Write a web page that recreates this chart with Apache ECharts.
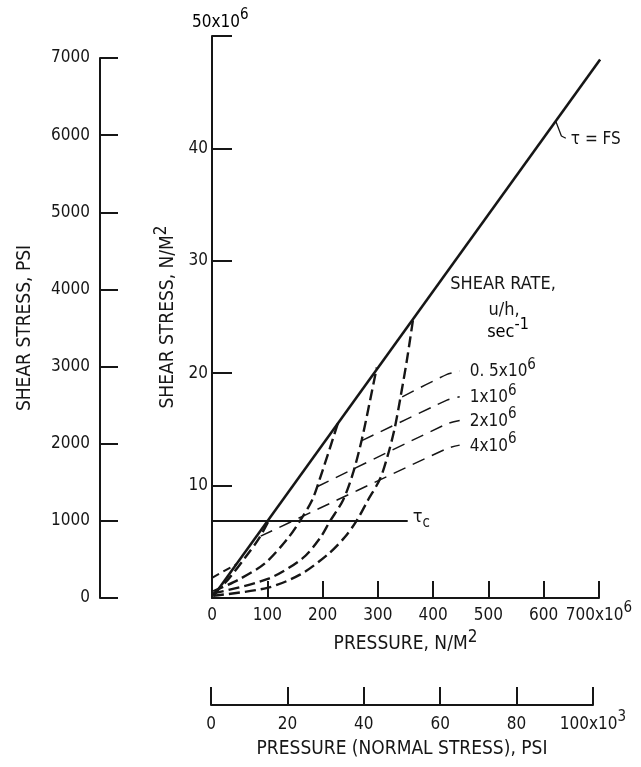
<!DOCTYPE html>
<html lang="en">
<head>
	<meta charset="UTF-8">
	<title>Shear stress vs pressure</title>
	<style>
		html,body{background-color:#fff;height:100%;overflow:hidden;margin:0;padding:0;}
		#main{position:absolute;top:0;left:0;width:641px;height:767px;}
	</style>
</head>
<body>
	<div id="main"></div>
	<script src="https://cdn.jsdelivr.net/npm/echarts@6/dist/echarts.min.js"></script>
	<script>
		// units: pressure and shear stress in 10^6 N/m^2 unless noted
		var pressTicks = [0, 100, 200, 300, 400, 500, 600, 700];
		var stressTicks = [0, 10, 20, 30, 40, 50];
		var psiTicks = [0, 1000, 2000, 3000, 4000, 5000, 6000, 7000];
		var kpsiTicks = [0, 20, 40, 60, 80, 100];

		// tau = FS limit line and critical stress tau_c
		var fsLine = [[3, 0.2], [702, 47.9]];
		var tauC = [[0, 6.85], [354, 6.85]];
		var fsLeader = [[622, 42.4], [632, 41.1], [640, 40.9]];

		// steep dashed curves, meeting the FS line
		var curve0 = [[2, 0.3], [30, 1.7], [60, 3.6], [85, 5.3], [105, 7.1]];
		var curveA = [[2, 0.6], [47, 1.6], [96, 3.1], [137, 5.3], [159, 6.85], [181, 8.7], [195, 10.6], [213, 13.3], [228, 15.6]];
		var curveB = [[2, 0.4], [101, 1.7], [163, 3.5], [195, 5.3], [213, 6.8], [237, 8.7], [255, 11.1], [271, 14.1], [286, 17.6], [298, 20.5]];
		var curveC = [[2, 0.2], [100, 0.9], [160, 2.1], [210, 3.9], [240, 5.4], [262, 6.9], [282, 8.7], [304, 10.6], [318, 12.7], [330, 15.0], [340, 17.6], [352, 21.0], [364, 24.9]];
		var lowDash = [[0, 1.8], [44, 3.0]];

		// shear rate lines, u/h in sec^-1
		var rateNames = ['0. 5x10', '1x10', '2x10', '4x10'];
		var rateLines = [
			[[344, 17.9], [425, 19.9], [448, 20.2]],
			[[271, 14.0], [425, 17.6], [448, 17.9]],
			[[190, 9.9], [425, 15.5], [448, 15.8]],
			[[88, 5.5], [425, 13.3], [448, 13.6]]
		];

		var FONT = '"DejaVu Sans Condensed", "Liberation Sans Narrow", "DejaVu Sans", sans-serif';
		var INK = '#161616';

		function rich(size){
			return {
				a: {fontFamily: FONT, fontSize: size, color: INK, verticalAlign: 'bottom', lineHeight: size + 2},
				s: {fontFamily: FONT, fontSize: size - 2, color: INK, verticalAlign: 'bottom', lineHeight: size, padding: [0, 0, 8, 0]},
				b: {fontFamily: FONT, fontSize: size, color: INK, verticalAlign: 'bottom', lineHeight: size + 2, padding: [0, 0, 5, 0]},
				c: {fontFamily: FONT, fontSize: size - 3, color: INK, verticalAlign: 'bottom', lineHeight: size - 1}
			};
		}
		function lineSeries(data, width, type, smooth){
			return {
				type: 'line', xAxisIndex: 0, yAxisIndex: 0, data: data,
				symbol: 'none', showSymbol: false, smooth: smooth || false, silent: true,
				lineStyle: {color: INK, width: width, type: type}
			};
		}
		function axisStyle(){
			return {
				axisLine: {show: true, lineStyle: {color: INK, width: 2}},
				axisTick: {show: true, inside: true, length: 18, lineStyle: {color: INK, width: 2}},
				splitLine: {show: false},
				axisLabel: {color: INK, fontFamily: FONT, fontSize: 17}
			};
		}
		function ext(base, more){
			for (var k in more) base[k] = more[k];
			return base;
		}
		function plain(v){ return String(v); }

		var chart = echarts.init(document.getElementById('main'));

		var series = [];
		series.push(lineSeries(fsLine, 2.5, 'solid'));
		var tc = lineSeries(tauC, 2, 'solid');
		tc.endLabel = {show: true, distance: 5, formatter: '{b|τ}{c|c}', rich: rich(18)};
		series.push(tc);
		var leader = lineSeries(fsLeader, 1.3, 'solid');
		leader.endLabel = {show: true, distance: 5, formatter: '{a|τ = FS}', rich: rich(17)};
		series.push(leader);
		series.push(lineSeries(curve0, 2.4, [11, 5], 0.3));
		series.push(lineSeries(curveA, 2.4, [11, 5], 0.3));
		series.push(lineSeries(curveB, 2.4, [11, 5], 0.3));
		series.push(lineSeries(curveC, 2.4, [11, 5], 0.3));
		series.push(lineSeries(lowDash, 2, [8, 5]));
		for (var i = 0; i < rateLines.length; i++) {
			var s = lineSeries(rateLines[i], 1.5, [13, 8], 0.2);
			s.endLabel = {show: true, distance: 10, formatter: '{a|' + rateNames[i] + '}{s|6}', rich: rich(17)};
			series.push(s);
		}

		var option = {
			backgroundColor: '#fff',
			animation: false,
			grid: [
				{left: 212, top: 36, width: 387, height: 562},
				{left: 100, top: 58, width: 10, height: 540},
				{left: 211, top: 600, width: 382, height: 105}
			],
			xAxis: [
				ext(axisStyle(), {
					gridIndex: 0, type: 'value', min: pressTicks[0], max: pressTicks[pressTicks.length - 1],
					interval: pressTicks[1] - pressTicks[0],
					axisTick: {show: true, inside: true, length: 17, lineStyle: {color: INK, width: 2}},
					axisLabel: {color: INK, fontFamily: FONT, fontSize: 17, margin: 7, rich: rich(17),
						formatter: function(v){ return v === 700 ? '{a|700x10}{s|6}' : '{a|' + v + '}'; }},
					name: '{a|PRESSURE, N/M}{s|2}', nameLocation: 'middle', nameGap: 25,
					nameTextStyle: {rich: rich(19)}
				}),
				{gridIndex: 1, show: false, min: 0, max: 1},
				ext(axisStyle(), {
					gridIndex: 2, type: 'value', min: kpsiTicks[0], max: kpsiTicks[kpsiTicks.length - 1],
					interval: kpsiTicks[1] - kpsiTicks[0],
					axisLabel: {color: INK, fontFamily: FONT, fontSize: 17, margin: 9, rich: rich(17),
						formatter: function(v){ return v === 100 ? '{a|100x10}{s|3}' : '{a|' + v + '}'; }},
					name: 'PRESSURE (NORMAL STRESS), PSI', nameLocation: 'middle', nameGap: 35,
					nameTextStyle: {color: INK, fontFamily: FONT, fontSize: 19}
				})
			],
			yAxis: [
				ext(axisStyle(), {
					gridIndex: 0, type: 'value', min: stressTicks[0], max: stressTicks[stressTicks.length - 1],
					interval: stressTicks[1] - stressTicks[0],
					axisTick: {show: true, inside: true, length: 20, lineStyle: {color: INK, width: 2}},
					axisLabel: {color: INK, fontFamily: FONT, fontSize: 17, margin: 4,
						formatter: function(v){ return (v === 0 || v === 50) ? '' : String(v); }},
					name: '{a|SHEAR STRESS, N/M}{s|2}', nameLocation: 'middle', nameGap: 33,
					nameTextStyle: {rich: rich(19)}
				}),
				ext(axisStyle(), {
					gridIndex: 1, type: 'value', min: psiTicks[0], max: psiTicks[psiTicks.length - 1],
					interval: psiTicks[1] - psiTicks[0],
					axisLabel: {color: INK, fontFamily: FONT, fontSize: 17, margin: 10, formatter: plain},
					name: 'SHEAR STRESS, PSI', nameLocation: 'middle', nameGap: 65,
					nameTextStyle: {color: INK, fontFamily: FONT, fontSize: 19}
				}),
				{gridIndex: 2, show: false, min: 0, max: 1}
			],
			graphic: [
				{type: 'text', left: 192, top: 8, style: {text: '{a|50x10}{s|6}', rich: rich(17)}},
				{type: 'text', x: 503, y: 284, style: {text: 'SHEAR RATE,', fill: INK, fontFamily: FONT, fontSize: 18, align: 'center', verticalAlign: 'middle'}},
				{type: 'text', x: 504, y: 310, style: {text: 'u/h,', fill: INK, fontFamily: FONT, fontSize: 18, align: 'center', verticalAlign: 'middle'}},
				{type: 'text', x: 508, y: 331, style: {text: '{a|sec}{s|-1}', rich: rich(18), align: 'center', verticalAlign: 'middle'}}
			],
			series: series
		};
		chart.setOption(option);
	</script>
</body>
</html>
